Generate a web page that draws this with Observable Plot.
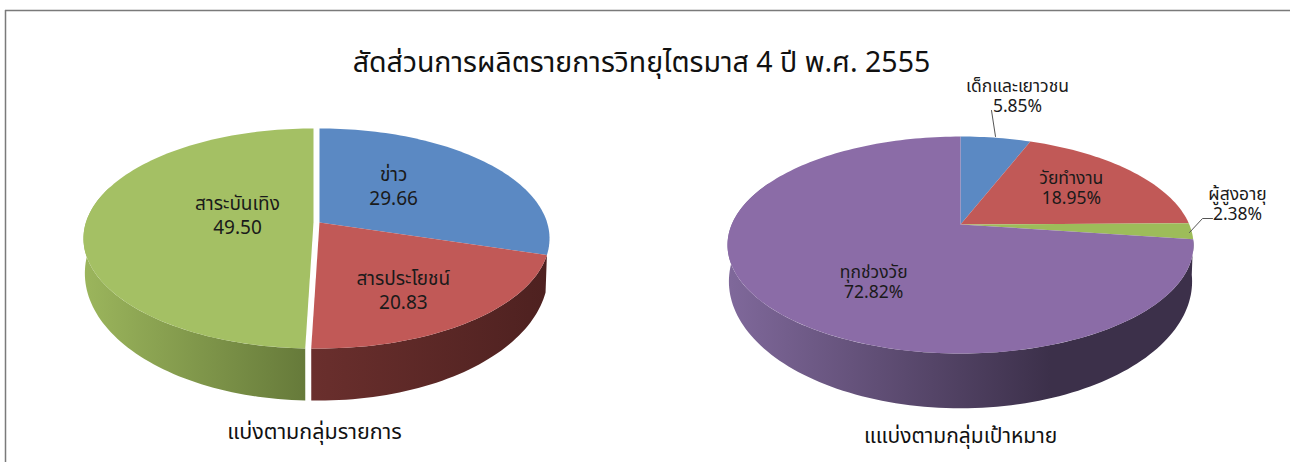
<!DOCTYPE html>
<html><head><meta charset="utf-8">
<style>html,body{margin:0;padding:0;background:#fff}svg{display:block}</style>
<script src="https://cdn.jsdelivr.net/npm/d3@7"></script>
<script src="https://cdn.jsdelivr.net/npm/@observablehq/plot@0.6"></script>
</head><body><div id="chart"></div>
<script>
const chartTitle = "สัดส่วนการผลิตรายการวิทยุไตรมาส 4 ปี พ.ศ. 2555";
const programNames = ["ข่าว","สารประโยชน์","สาระบันเทิง"];
const programValues = [29.66,20.83,49.50];
const programLabels = ["29.66","20.83","49.50"];
const programColors = ["#5b89c3","#c15957","#a4c064"];
const programCaption = "แบ่งตามกลุ่มรายการ";
const audienceNames = ["เด็กและเยาวชน","วัยทำงาน","ผู้สูงอายุ","ทุกช่วงวัย"];
const audienceValues = [5.85,18.95,2.38,72.82];
const audienceLabels = ["5.85%","18.95%","2.38%","72.82%"];
const audienceColors = ["#5b89c3","#c15957","#9dbc5a","#8b6ca7"];
const audienceCaption = "แแบ่งตามกลุ่มเป้าหมาย";

const thaiFont = "Tahoma, 'Noto Sans Thai', 'DejaVu Sans', 'Noto Sans', sans-serif";

// perspective projection of a pie's top and bottom discs
function projector(g){
  return (deg, rho=1, low=false) => {
    const t = deg*Math.PI/180, X = rho*Math.sin(t), Y = -rho*Math.cos(t), w = 1 - g.k*Y;
    if(!low) return {x:g.cx + g.rx*X/w, y:g.cy + g.ry*Y/w};
    return {x:g.cx + g.s*g.rx*X/w, y:g.cy + (g.a + g.b*Y)/w};
  };
}
function angles(values){
  const total = d3.sum(values); let c = 0;
  return values.map(v => { const a0=c/total*360; c+=v; return [a0,c/total*360]; });
}
function arc(a0,a1,fn){ const n=Math.max(2,Math.ceil((a1-a0)/1.5)); const p=[]; for(let i=0;i<=n;i++) p.push(fn(a0+(a1-a0)*i/n)); return p; }
function slice(P,a0,a1){ return [P(a0,0),...arc(a0,a1,a=>P(a))]; }
function wall(P,a0,a1){ return [...arc(a0,a1,a=>P(a)),...arc(a0,a1,a=>P(a,1,true)).reverse()]; }
const poly = (pts,fill) => Plot.line(pts,{x:"x",y:"y",fill,stroke:"none"});

const PA = {cx:319,cy:222,rx:227.6,ry:107.7,k:0.145,s:0.994,a:32.4,b:119.8};
const PG = {...PA,cx:313};
const AU = {cx:960,cy:224,rx:228.8,ry:104.6,k:0.189,s:0.994,a:33,b:116};
const pA = projector(PA), pG = projector(PG), pU = projector(AU);
const angA = angles(programValues), angU = angles(audienceValues);

function defs(){
  const ns="http://www.w3.org/2000/svg";
  const d=document.createElementNS(ns,"defs");
  const add=(id,x1,x2,stops)=>{
    const g=document.createElementNS(ns,"linearGradient");
    g.setAttribute("id",id);g.setAttribute("gradientUnits","userSpaceOnUse");
    g.setAttribute("x1",x1);g.setAttribute("x2",x2);g.setAttribute("y1",0);g.setAttribute("y2",0);
    stops.forEach(([o,c])=>{const s=document.createElementNS(ns,"stop");s.setAttribute("offset",o);s.setAttribute("stop-color",c);g.appendChild(s);});
    d.appendChild(g);
  };
  add("gGreen",85,305,[[0,"#9bb55c"],[1,"#667a3a"]]);
  add("gRed",311,546,[[0,"#6a2f2d"],[1,"#4e2120"]]);
  add("gPurple",730,1050,[[0,"#7f689a"],[1,"#3c304a"]]);
  return d;
}

const labelAt = (P,ang,rho,dx,dy) => { const p=P((ang[0]+ang[1])/2,rho); return {x:p.x+dx,y:p.y+dy}; };
const progPos = [labelAt(pA,angA[0],0.45,-5,-9),labelAt(pA,angA[1],0.62,-5,8),labelAt(pG,angA[2],0.55,49,-7)];
const audPos  = [{x:1017,y:95},labelAt(pU,angU[1],0.6,5,-3),{x:1237,y:203},labelAt(pU,angU[3],0.55,15,17)];
const twoLine = (names,vals,pos) => names.map((n,i)=>({x:pos[i].x,y:pos[i].y,t:n+"\n"+vals[i]}));
const labelsA = twoLine(programNames,programLabels,progPos);
const labelsU = twoLine(audienceNames,audienceLabels,audPos);
const pl = Plot.plot({
  width:1290,height:462,margin:0,
  x:{domain:[0,1290],range:[0,1290],axis:null},
  y:{domain:[0,462],range:[0,462],axis:null},
  style:{background:"#fff"},
  marks:[
    defs,
    Plot.ruleY([10],{x1:5,x2:1290,stroke:"#7a7a7a",strokeWidth:1.5}),
    Plot.ruleX([5],{y1:10,y2:462,stroke:"#7a7a7a",strokeWidth:1.5}),
    // left pie
    poly(wall(pG,angA[2][0],290),"url(#gGreen)"),
    poly(wall(pA,angA[1][0],angA[1][1]),"url(#gRed)"),
    poly(slice(pG,angA[2][0],angA[2][1]),programColors[2]),
    poly(slice(pA,angA[0][0],angA[0][1]),programColors[0]),
    poly(slice(pA,angA[1][0],angA[1][1]),programColors[1]),
    // right pie
    poly(wall(pU,angU[3][0],295),"url(#gPurple)"),
    ...audienceColors.map((c,i)=>poly(slice(pU,angU[i][0],angU[i][1]),c)),
    // leaders
    Plot.line([{x:991,y:110},{x:995,y:136}],{x:"x",y:"y",stroke:"#555",strokeWidth:1}),
    Plot.line([{x:1212,y:218},{x:1202,y:218},{x:1189,y:232}],{x:"x",y:"y",stroke:"#555",strokeWidth:1}),
    Plot.text(labelsA,{x:"x",y:"y",text:"t",fontSize:19,lineHeight:1.26,fontFamily:thaiFont,fill:"#1a1a1a"}),
    Plot.text(labelsU,{x:"x",y:"y",text:"t",fontSize:17.5,lineHeight:1.14,fontFamily:thaiFont,fill:"#1a1a1a"}),
    Plot.text([chartTitle],{x:641,y:62,text:d=>d,fontSize:28.5,fontFamily:thaiFont,fill:"#111"}),
    Plot.text([programCaption],{x:314,y:432,text:d=>d,fontSize:21.5,fontFamily:thaiFont,fill:"#111"}),
    Plot.text([audienceCaption],{x:960,y:436,text:d=>d,fontSize:21,fontFamily:thaiFont,fill:"#111"})
  ]
});
document.getElementById("chart").append(pl);
</script></body></html>
